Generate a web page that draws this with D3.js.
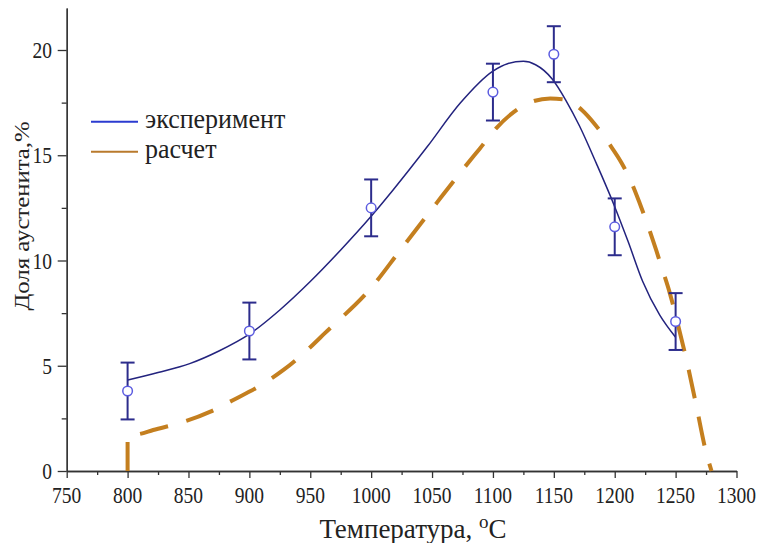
<!DOCTYPE html>
<html>
<head>
<meta charset="utf-8">
<script src="https://cdn.jsdelivr.net/npm/d3@7"></script>
<style>
    body { margin: 0; background: #fff; }
    text { font-family: "Liberation Serif", "Times New Roman", serif; fill: #222; }
</style>
</head>
<body>
<svg id="chart" width="760" height="543"></svg>
<script>
// axis ticks
var xTicks = [750, 800, 850, 900, 950, 1000, 1050, 1100, 1150, 1200, 1250, 1300];
var xMinorTicks = [775, 825, 875, 925, 975, 1025, 1075, 1125, 1175, 1225, 1275];
var yTicks = [0, 5, 10, 15, 20];
var yMinorTicks = [2.5, 7.5, 12.5, 17.5];

// experiment: measured points with error bars
var expTemp = [800, 900, 1000, 1100, 1150, 1200, 1250];
var expShare = [3.8, 6.65, 12.5, 18.0, 19.8, 11.6, 7.1];
var expError = [1.35, 1.35, 1.35, 1.35, 1.33, 1.35, 1.35];

// experiment: fitted curve
var fitTemp = [800, 825, 851, 875, 900, 925, 950, 975, 1000, 1018, 1046, 1073, 1100, 1112, 1125, 1135, 1149, 1160, 1171, 1185, 1199, 1211, 1223, 1237, 1250];
var fitShare = [4.32, 4.68, 5.1, 5.7, 6.5, 7.65, 9.0, 10.5, 12.1, 13.35, 15.4, 17.47, 19.0, 19.35, 19.46, 19.3, 18.6, 17.6, 16.4, 14.6, 12.7, 10.9, 9.0, 7.4, 6.35];

// calculation (dashed)
var calcTemp = [800, 800, 810, 821, 843, 868, 886, 914, 928, 950, 962, 1000, 1024, 1040, 1054, 1077, 1089, 1103, 1117, 1130, 1147, 1159, 1173, 1184, 1196, 1206, 1213, 1220, 1227, 1234, 1239, 1245, 1253, 1260, 1267, 1275, 1279.5];
var calcShare = [0, 1.68, 1.76, 1.95, 2.28, 2.82, 3.35, 4.24, 4.8, 5.88, 6.55, 8.7, 10.5, 11.7, 12.75, 14.45, 15.3, 16.3, 17.05, 17.5, 17.7, 17.65, 17.15, 16.45, 15.5, 14.6, 13.8, 12.8, 11.7, 10.5, 9.6, 8.5, 6.7, 5.0, 3.1, 0.9, 0];

var legendLabels = ['эксперимент', 'расчет'];

var svg = d3.select('#chart'),
    fitColor = '#23237e',
    legendBlue = '#2b3bd0',
    calcColor = '#c47f1f',
    axisColor = '#333',
    stretch = 1.18;

var x = d3.scaleLinear().domain([750, 1300]).range([66.7, 736.5]);
var y = d3.scaleLinear().domain([0, 22]).range([471, 7.9]);


function styleAxis(g) {
    g.selectAll('path, line').attr('stroke', axisColor).attr('stroke-width', 1.3);
    g.selectAll('text').remove();
}

// axes
svg.append('g')
    .attr('transform', 'translate(0,' + y(0) + ')')
    .call(d3.axisBottom(x).tickValues(xTicks).tickSize(7).tickSizeOuter(0))
    .call(styleAxis);

svg.append('g')
    .attr('transform', 'translate(0,' + y(0) + ')')
    .call(d3.axisBottom(x).tickValues(xMinorTicks).tickSize(4).tickSizeOuter(0))
    .call(styleAxis);

svg.append('g')
    .attr('transform', 'translate(' + x(750) + ',0)')
    .call(d3.axisLeft(y).tickValues(yTicks).tickSize(9).tickSizeOuter(0))
    .call(styleAxis);

svg.append('g')
    .attr('transform', 'translate(' + x(750) + ',0)')
    .call(d3.axisLeft(y).tickValues(yMinorTicks).tickSize(5).tickSizeOuter(0))
    .call(styleAxis);

// tick labels, slightly stretched vertically like the source image
svg.append('g').selectAll('text')
    .data(xTicks)
    .enter().append('text')
    .attr('text-anchor', 'middle')
    .attr('font-size', 19.5)
    .attr('transform', function(d) { return 'translate(' + x(d) + ',503) scale(1,' + stretch + ')'; })
    .text(function(d) { return d; });

svg.append('g').selectAll('text')
    .data(yTicks)
    .enter().append('text')
    .attr('text-anchor', 'end')
    .attr('font-size', 19.5)
    .attr('transform', function(d) { return 'translate(52,' + (y(d) + 8) + ') scale(1,' + stretch + ')'; })
    .text(function(d) { return d; });

// axis titles
svg.append('text')
    .attr('text-anchor', 'middle')
    .attr('font-size', 21)
    .attr('transform', 'translate(29,216) rotate(-90) scale(' + stretch + ',1)')
    .text('Доля аустенита,%');

var xTitle = svg.append('text')
    .attr('text-anchor', 'middle')
    .attr('font-size', 27)
    .attr('transform', 'translate(413,538)');
xTitle.append('tspan').text('Температура, ');
xTitle.append('tspan').attr('font-size', 19).attr('dy', -10).text('o');
xTitle.append('tspan').attr('dy', 10).text('C');

// curves
var line = d3.line()
    .x(function(d) { return x(d[0]); })
    .y(function(d) { return y(d[1]); })
    .curve(d3.curveMonotoneX);

// calculated curve: vertical start at 800 then the smooth part
var calc = d3.zip(calcTemp, calcShare);
svg.append('path')
    .attr('fill', 'none')
    .attr('stroke', calcColor)
    .attr('stroke-width', 4)
    .attr('stroke-dasharray', '29,19')
    .attr('d', 'M' + x(calc[0][0]) + ',' + y(calc[0][1]) + line(calc.slice(1)).replace(/^M/, 'L'));

// fitted curve
svg.append('path')
    .datum(d3.zip(fitTemp, fitShare))
    .attr('fill', 'none')
    .attr('stroke', fitColor)
    .attr('stroke-width', 1.5)
    .attr('d', line);

// error bars and markers
var points = d3.zip(expTemp, expShare, expError);

var bars = svg.append('g')
    .attr('stroke', '#2c2c8c')
    .attr('stroke-width', 2)
    .selectAll('g')
    .data(points)
    .enter().append('g');

bars.append('line')
    .attr('x1', function(d) { return x(d[0]); })
    .attr('x2', function(d) { return x(d[0]); })
    .attr('y1', function(d) { return y(d[1] - d[2]); })
    .attr('y2', function(d) { return y(d[1] + d[2]); });

bars.selectAll('.cap')
    .data(function(d) { return [[d[0], d[1] - d[2]], [d[0], d[1] + d[2]]]; })
    .enter().append('line')
    .attr('class', 'cap')
    .attr('x1', function(d) { return x(d[0]) - 7; })
    .attr('x2', function(d) { return x(d[0]) + 7; })
    .attr('y1', function(d) { return y(d[1]); })
    .attr('y2', function(d) { return y(d[1]); });

svg.append('g').selectAll('circle')
    .data(points)
    .enter().append('circle')
    .attr('cx', function(d) { return x(d[0]); })
    .attr('cy', function(d) { return y(d[1]); })
    .attr('r', 4.8)
    .attr('fill', '#fff')
    .attr('stroke', '#5c5ce0')
    .attr('stroke-width', 1.5);

// legend
var legend = svg.append('g').selectAll('g')
    .data(legendLabels)
    .enter().append('g')
    .attr('transform', function(d, i) { return 'translate(91,' + (121.7 + i * 30) + ')'; });

legend.append('line')
    .attr('x2', 47)
    .attr('stroke', function(d, i) { return i ? '#b97a2c' : legendBlue; })
    .attr('stroke-width', 2);

legend.append('text')
    .attr('font-size', 26)
    .attr('transform', 'translate(54,6.5) scale(1,1.08)')
    .text(function(d) { return d; });
</script>
</body>
</html>
